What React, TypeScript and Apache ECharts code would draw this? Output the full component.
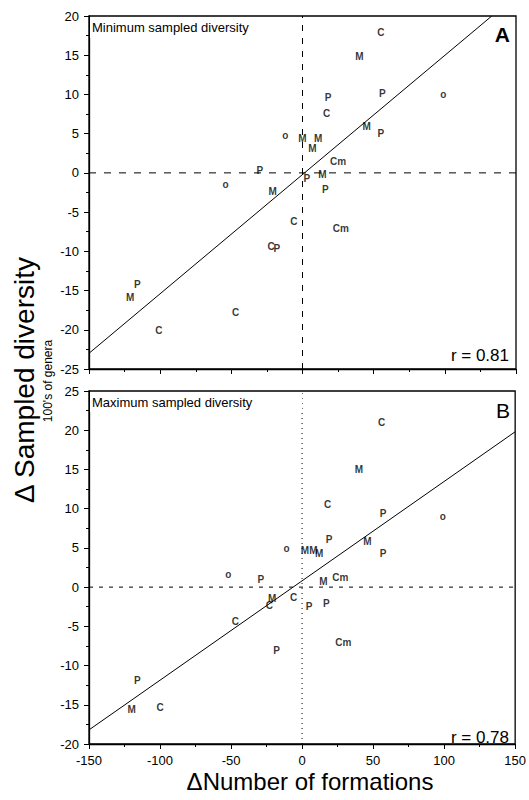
import React, { useEffect, useRef } from "react";
import * as echarts from "echarts";

// Panel A: minimum sampled diversity
const aX = [55, 40, 56, 99, 18, 17, 45, 55, -12, 0, 11, 7, 25, -30, 3, 14, -54, -21, 16, -6, 27, -22, -18, -116, -121, -47, -101];
const aY = [17.8, 14.8, 10, 9.9, 9.5, 7.5, 5.9, 4.9, 4.7, 4.3, 4.3, 3.0, 1.4, 0.2, -0.8, -0.3, -1.6, -2.4, -2.2, -6.2, -7.2, -9.4, -9.7, -14.3, -16.0, -17.8, -20.1];
const aLab = ["C", "M", "P", "o", "P", "C", "M", "P", "o", "M", "M", "M", "Cm", "P", "P", "M", "o", "M", "P", "C", "Cm", "C", "P", "P", "M", "C", "C"];

// Panel B: maximum sampled diversity
const bX = [56, 40, 18, 57, 99, 19, 46, -11, 2, 8, 12, 57, -52, -29, 15, 27, -21, -23, -6, 5, 17, -47, 29, -18, -116, -120, -100];
const bY = [20.9, 14.9, 10.5, 9.3, 8.9, 5.95, 5.7, 4.9, 4.6, 4.6, 4.2, 4.2, 1.6, 0.85, 0.7, 1.15, -1.57, -2.4, -1.45, -2.55, -2.2, -4.5, -7.1, -8.1, -12.0, -15.7, -15.4];
const bLab = ["C", "M", "C", "P", "o", "P", "M", "o", "M", "M", "M", "P", "o", "P", "M", "Cm", "M", "C", "C", "P", "P", "C", "Cm", "P", "P", "M", "C"];

// Regression line endpoints
const regA = [[-150, -23], [133, 20]];
const regB = [[-150, -18.2], [150, 19.8]];

const xTicks = { min: -150, max: 150, interval: 50 };
const yRangeA = { min: -25, max: 20, interval: 5 };
const yRangeB = { min: -20, max: 25, interval: 5 };
const zeroH = [[-150, 0], [150, 0]];
const zeroVA = [[0, -25], [0, 20]];
const zeroVB = [[0, -20], [0, 25]];

const FONT = "'Liberation Sans', Arial, Helvetica, sans-serif";

export default function App() {
  const ref = useRef<HTMLDivElement>(null);
  useEffect(() => {
    if (!ref.current) return;
    const chart = echarts.init(ref.current, null, { renderer: "svg" });
    const axisLine = { show: true, onZero: false, lineStyle: { color: "#000", width: 1.3 } };
    const xAxisBase = (gridIndex: number, showLabels: boolean) => ({
      type: "value",
      gridIndex,
      ...xTicks,
      axisLine,
      axisTick: { show: true, inside: false, length: 5, lineStyle: { color: "#000", width: 1 } },
      minorTick: { show: true, splitNumber: 2, length: 3, lineStyle: { color: "#000", width: 1 } },
      axisLabel: {
        show: showLabels,
        color: "#000",
        fontFamily: FONT,
        fontSize: 13,
        margin: 10,
        formatter: (v: number) => String(v),
      },
      splitLine: { show: false },
    });
    const yAxisBase = (gridIndex: number, r: any) => ({
      type: "value",
      gridIndex,
      ...r,
      axisLine,
      axisTick: { show: true, inside: false, length: 5, lineStyle: { color: "#000", width: 1 } },
      minorTick: { show: true, splitNumber: 2, length: 3, lineStyle: { color: "#000", width: 1 } },
      axisLabel: {
        color: "#000",
        fontFamily: FONT,
        fontSize: 13,
        margin: 10,
        showMaxLabel: true,
        showMinLabel: true,
      },
      splitLine: { show: false },
    });
    const scatter = (xs: number[], ys: number[], labs: string[], idx: number) => ({
      type: "scatter",
      xAxisIndex: idx,
      yAxisIndex: idx,
      symbol: "circle",
      symbolSize: 1,
      itemStyle: { color: "rgba(0,0,0,0)" },
      label: {
        show: true,
        position: "top",
        distance: 0,
        verticalAlign: "middle",
        align: "center",
        color: "#000",
        fontFamily: FONT,
        fontSize: 10,
        fontWeight: "bold",
        formatter: (p: any) => p.data[2],
      },
      emphasis: { disabled: true },
      labelLayout: { hideOverlap: false },
      data: xs.map((x, i) => [x, ys[i], labs[i]]),
      z: 5,
    });
    const line = (data: number[][], idx: number, type: any, width = 1) => ({
      type: "line",
      xAxisIndex: idx,
      yAxisIndex: idx,
      symbol: "none",
      data,
      lineStyle: { color: "#000", width, type },
      silent: true,
    });
    chart.setOption({
      animation: false,
      backgroundColor: "#fff",
      grid: [
        { left: 89, top: 16, width: 427, height: 353, show: true, borderColor: "#000", borderWidth: 1.3 },
        { left: 89, top: 391, width: 427, height: 353, show: true, borderColor: "#000", borderWidth: 1.3 },
      ],
      xAxis: [xAxisBase(0, false), xAxisBase(1, true)],
      yAxis: [yAxisBase(0, yRangeA), yAxisBase(1, yRangeB)],
      series: [
        line(zeroH, 0, [7, 8]),
        line(zeroVA, 0, [6, 7]),
        line(regA, 0, "solid"),
        scatter(aX, aY, aLab, 0),
        line(zeroH, 1, [4, 6]),
        line(zeroVB, 1, [1, 4]),
        line(regB, 1, "solid"),
        scatter(bX, bY, bLab, 1),
      ],
      graphic: [
        { type: "rect", shape: { x: 90, y: 17, width: 205, height: 21 }, style: { fill: "#fff" }, z: 10 },
        { type: "text", x: 92, y: 27, style: { text: "Minimum sampled diversity", font: `13px ${FONT}`, fill: "#000", textVerticalAlign: "middle" }, z: 11 },
        { type: "text", x: 510, y: 34, style: { text: "A", font: `bold 21px ${FONT}`, fill: "#000", textAlign: "right", textVerticalAlign: "middle" }, z: 11 },
        { type: "text", x: 509, y: 355, style: { text: "r = 0.81", font: `17px ${FONT}`, fill: "#000", textAlign: "right", textVerticalAlign: "middle" }, z: 11 },
        { type: "rect", shape: { x: 90, y: 392, width: 212, height: 20 }, style: { fill: "#fff" }, z: 10 },
        { type: "text", x: 92, y: 402, style: { text: "Maximum sampled diversity", font: `13px ${FONT}`, fill: "#000", textVerticalAlign: "middle" }, z: 11 },
        { type: "text", x: 510, y: 410, style: { text: "B", font: `21px ${FONT}`, fill: "#000", textAlign: "right", textVerticalAlign: "middle" }, z: 11 },
        { type: "text", x: 509, y: 737, style: { text: "r = 0.78", font: `17px ${FONT}`, fill: "#000", textAlign: "right", textVerticalAlign: "middle" }, z: 11 },
        { type: "text", x: 24, y: 380, rotation: Math.PI / 2, style: { text: "Δ Sampled diversity", font: `28px ${FONT}`, fill: "#000", textAlign: "center", textVerticalAlign: "middle" } },
        { type: "text", x: 48, y: 381, rotation: Math.PI / 2, style: { text: "100's of genera", font: `12px ${FONT}`, fill: "#000", textAlign: "center", textVerticalAlign: "middle" } },
        { type: "text", x: 310, y: 781, style: { text: "ΔNumber of formations", font: `24px ${FONT}`, fill: "#000", textAlign: "center", textVerticalAlign: "middle" } },
      ],
    });
    return () => chart.dispose();
  }, []);
  return <div ref={ref} style={{ position: "absolute", left: 0, top: 0, width: 529, height: 800 }} />;
}
